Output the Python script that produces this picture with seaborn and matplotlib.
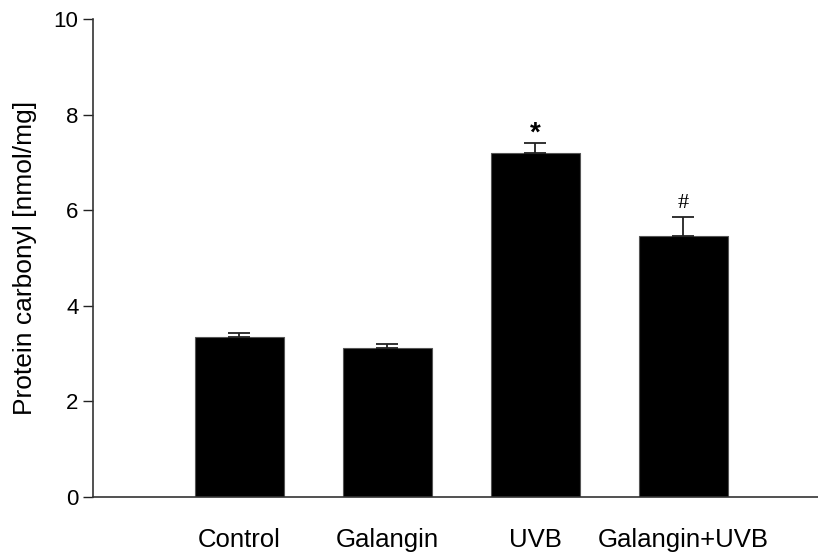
import numpy as np
import pandas as pd
import matplotlib
matplotlib.use("Agg")
import matplotlib.pyplot as plt
import seaborn as sns

# values
groups = ["Control", "Galangin", "UVB", "Galangin+UVB"]
carbonyl = [3.34, 3.12, 7.20, 5.46]
sem = [0.10, 0.08, 0.21, 0.39]
marks = ["", "", "*", "#"]

df = pd.DataFrame({"group": groups, "carbonyl": carbonyl, "sem": sem})

sns.set_style("ticks")
plt.rcParams["font.family"] = ["Liberation Sans", "DejaVu Sans"]
plt.rcParams["text.color"] = "black"
plt.rcParams["xtick.color"] = "black"
plt.rcParams["ytick.color"] = "black"
plt.rcParams["axes.labelcolor"] = "black"

fig = plt.figure(figsize=(8.18, 5.58), dpi=100)
ax = fig.add_axes([93 / 818, 61 / 558, 1 - 93 / 818, 478 / 558])

sns.barplot(data=df, x="group", y="carbonyl", color="black", width=0.6,
            errorbar=None, edgecolor="#555555", linewidth=0.8, saturation=1, ax=ax)

# upper error bars only
pos = np.arange(len(groups))
ax.errorbar(pos, df["carbonyl"], yerr=[np.zeros(len(sem)), df["sem"]],
            fmt="none", ecolor="#222222", elinewidth=1.3, capsize=8, capthick=1.3, zorder=1)

# significance marks
for x, (v, e, m) in enumerate(zip(carbonyl, sem, marks)):
    if m == "*":
        ax.annotate(m, (x, v + e), xytext=(0, -3), textcoords="offset points",
                    ha="center", va="bottom", fontsize=20, fontweight="bold")
    elif m == "#":
        ax.annotate(m, (x, v + e), xytext=(0, 3), textcoords="offset points",
                    ha="center", va="bottom", fontsize=16, family="Liberation Serif")

ax.set_xlim(-0.99, 3.91)
ax.set_ylim(0, 10)
ax.set_yticks([0, 2, 4, 6, 8, 10])
ax.set_xlabel("")
ax.set_ylabel("Protein carbonyl [nmol/mg]", fontsize=19, labelpad=12)
ax.tick_params(axis="y", labelsize=16, length=7, width=1, direction="out", color="#222222")
ax.tick_params(axis="x", labelsize=18.5, length=0, pad=22)
sns.despine(ax=ax)
for s in ["left", "bottom"]:
    ax.spines[s].set_color("#333333")
    ax.spines[s].set_linewidth(1.2)

fig.savefig("out.png", dpi=100)
